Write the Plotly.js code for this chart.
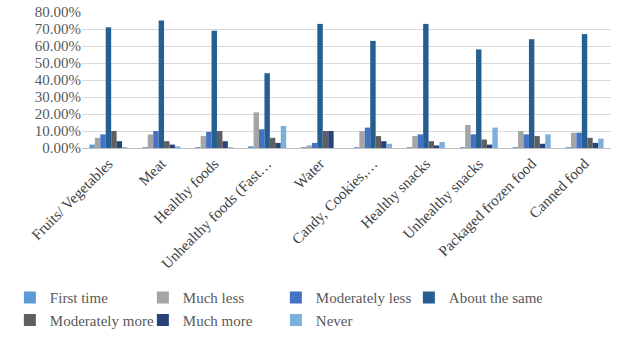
<!DOCTYPE html>
<html><head><meta charset="utf-8">
<script src="https://cdn.plot.ly/plotly-3.0.1.min.js"></script>
<style>html,body{margin:0;padding:0;background:#fff}</style>
</head><body><div id="chart" style="width:617px;height:339px"></div>
<script>
const categories = ["Fruits/ Vegetables","Meat","Healthy foods","Unhealthy foods (Fast…","Water","Candy, Cookies,…","Healthy snacks","Unhealthy snacks","Packaged frozen food","Canned food"];
const seriesNames = ["First time","Much less","Moderately less","About the same","Moderately more","Much more","Never"];
const firstTime      = [0.02,0.005,0.005,0.01,0.005,0.005,0.005,0.005,0.005,0.005];
const muchLess       = [0.06,0.08,0.07,0.21,0.015,0.10,0.07,0.135,0.10,0.09];
const moderatelyLess = [0.08,0.10,0.095,0.11,0.03,0.12,0.08,0.08,0.08,0.09];
const aboutSame      = [0.71,0.75,0.69,0.44,0.73,0.63,0.73,0.58,0.64,0.67];
const moderatelyMore = [0.10,0.04,0.10,0.06,0.10,0.07,0.04,0.05,0.07,0.06];
const muchMore       = [0.04,0.02,0.04,0.03,0.10,0.04,0.015,0.02,0.025,0.03];
const never          = [0.005,0.01,0.005,0.13,0.0,0.025,0.035,0.12,0.08,0.055];
const yTicks = [0,0.1,0.2,0.3,0.4,0.5,0.6,0.7,0.8];

const values = [firstTime,muchLess,moderatelyLess,aboutSame,moderatelyMore,muchMore,never];
const colors = ["#5b9bd5","#a5a5a5","#4472c4","#255e91","#5f5f5f","#264478","#7cafdd"];
const traces = values.map((v,i)=>({
  type:"bar", name:seriesNames[i], x:categories, y:v,
  marker:{color:colors[i]}, hoverinfo:"skip"
}));
const serif = "'Liberation Serif', 'Times New Roman', serif";
Plotly.newPlot("chart", traces, {
  width:617, height:339,
  margin:{l:82, r:6, t:12, b:191},
  paper_bgcolor:"#fff", plot_bgcolor:"#fff",
  font:{family:serif, size:14, color:"#595959"},
  bargap:0.28, bargroupgap:0,
  showlegend:true,
  legend:{orientation:"h", xref:"container", yref:"container", x:0.016, y:0.17, yanchor:"top", xanchor:"left",
    entrywidth:88, entrywidthmode:"pixels", tracegroupgap:0,
    font:{family:serif, size:15, color:"#595959"}},
  xaxis:{tickangle:-45, showline:true, linecolor:"#bfbfbf", ticks:"",
    tickfont:{family:serif, size:15, color:"#404040"}, automargin:false},
  yaxis:{range:[0,0.8], tickvals:yTicks, tickformat:".2%", showgrid:true, gridcolor:"#d9d9d9",
    zeroline:false, ticks:"", tickfont:{family:serif, size:15, color:"#595959"}, automargin:false}
}, {displayModeBar:false, staticPlot:true});
</script></body></html>
